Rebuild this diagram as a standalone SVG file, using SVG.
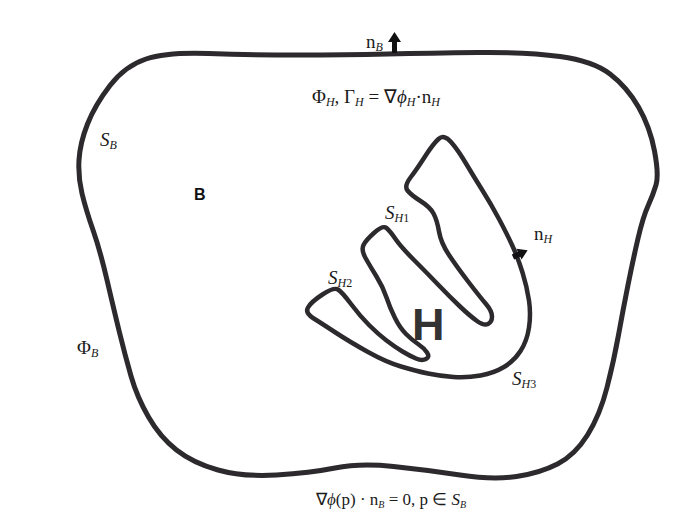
<svg xmlns="http://www.w3.org/2000/svg" width="682" height="519" viewBox="0 0 682 519">
<style>
.curve{fill:none;stroke:#2d2a2d;stroke-linejoin:round;stroke-linecap:round}
.m{font-family:"Liberation Serif","Times New Roman",serif;font-size:19px;fill:#1a1a1a}
.i{font-style:italic}
.s{font-size:12px;font-style:italic}
.n{font-size:12px}
.sans{font-family:"Liberation Sans",Arial,sans-serif}
.arrow{fill:#111}
</style>
<rect width="682" height="519" fill="#ffffff"/>
<g id="domain-B">
<path class="curve" stroke-width="5" d="M146,59 Q167,52 208.5,53.5 Q250,55 297.5,55 Q345,55 387.5,54 Q430,53 478.5,52.5 Q527,52 560,56.5 Q593,61 610,74 Q627,87 638.5,107 Q650,127 654.5,151 Q659,175 656,185 Q653,195 648,206 Q643,217 638,238.5 Q633,260 628,285 Q623,310 618.5,335 Q614,360 607,387.5 Q600,415 587.5,435 Q575,455 557.5,464 Q540,473 516.5,476.5 Q493,480 460,475 Q427,470 393.5,466.5 Q360,463 335,468 Q310,473 276.5,475 Q243,477 218,470 Q193,463 176.5,450 Q160,437 148.5,417 Q137,397 131,376 Q125,355 119.5,332.5 Q114,310 107,280 Q100,250 93,230 Q86,210 82,193.5 Q78,177 79,160 Q80,143 87.5,124 Q95,105 110,85.5 Q125,66 146,59 Z"/>
<text class="sans" x="194" y="200" style="font-weight:bold;font-size:16px;fill:#111">B</text>
<text class="m" x="100" y="146"><tspan class="i">S</tspan><tspan class="s" dy="3">B</tspan></text>
<text class="m" x="77" y="354">Φ<tspan class="s" dy="3">B</tspan></text>
</g>
<g id="hull-H">
<path class="curve" stroke-width="4.5" d="M438.5,139 Q444,134 451,142 Q458,150 466,163.5 Q474,177 482.5,190.5 Q491,204 499,219 Q507,234 512.5,246 Q518,258 522.5,272.5 Q527,287 529,300.5 Q531,314 529,327.5 Q527,341 520.5,351 Q514,361 504,367 Q494,373 480.5,375.5 Q467,378 453.5,377 Q440,376 428,373.5 Q416,371 401,366.5 Q386,362 368,352 Q350,342 335.5,332.5 Q321,323 313,318 Q305,313 308,307.5 Q311,302 322.5,294.5 Q334,287 338,289.5 Q342,292 351,304 Q360,316 369,325 Q378,334 386.5,340.5 Q395,347 402.5,351.5 Q410,356 416,358.5 Q422,361 426,359 Q430,357 427,352.5 Q424,348 418,344 Q412,340 406,334 Q400,328 395,318 Q390,308 386.5,297.5 Q383,287 376.5,276.5 Q370,266 365.5,258 Q361,250 363.5,245 Q366,240 374.5,232.5 Q383,225 386.5,228 Q390,231 395.5,239 Q401,247 414,260 Q427,273 438.5,285 Q450,297 460,306.5 Q470,316 477,321 Q484,326 488,324 Q492,322 492,316.5 Q492,311 486,304 Q480,297 468.5,282 Q457,267 449,255 Q441,243 439,231.5 Q437,220 433.5,213.5 Q430,207 420.5,201 Q411,195 407.5,190.5 Q404,186 410.5,177.5 Q417,169 425,156.5 Q433,144 438.5,139 Z"/>
<text class="sans" x="412" y="340" style="font-size:45px;font-weight:bold;fill:#333">H</text>
<text class="m" x="385" y="219"><tspan class="i">S</tspan><tspan class="s" dy="3">H</tspan><tspan class="n">1</tspan></text>
<text class="m" x="328" y="284"><tspan class="i">S</tspan><tspan class="s" dy="3">H</tspan><tspan class="n">2</tspan></text>
<text class="m" x="512" y="385"><tspan class="i">S</tspan><tspan class="s" dy="3">H</tspan><tspan class="n">3</tspan></text>
</g>
<g id="connectors">
<g id="normal-nB">
<polygon class="arrow" points="392,53 397,53 397,42 401,42 394.5,32 388,42 392,42"/>
<text class="m" x="366" y="48">n<tspan class="s" dy="3">B</tspan></text>
</g>
<g id="normal-nH">
<line x1="513" y1="257" x2="520" y2="253.7" stroke="#111" stroke-width="5.5"/>
<polygon class="arrow" points="521.6,259.6 516.4,248.8 527.6,250.2"/>
<text class="m" x="534" y="240">n<tspan class="s" dy="3">H</tspan></text>
</g>
</g>
<g id="equations">
<text class="m" x="312" y="103">Φ<tspan class="s" dy="3">H</tspan><tspan dy="-3">, Γ</tspan><tspan class="s" dy="3">H</tspan><tspan dy="-3"> = ∇</tspan><tspan class="i">ϕ</tspan><tspan class="s" dy="3">H</tspan><tspan dy="-3">·n</tspan><tspan class="s" dy="3">H</tspan></text>
<text class="m" x="316" y="505" style="font-size:17px">∇<tspan class="i">ϕ</tspan>(p) · n<tspan class="s" dy="3" style="font-size:10px">B</tspan><tspan dy="-3"> = 0, p ∈ </tspan><tspan class="i">S</tspan><tspan class="s" dy="3" style="font-size:10px">B</tspan></text>
</g>
</svg>
